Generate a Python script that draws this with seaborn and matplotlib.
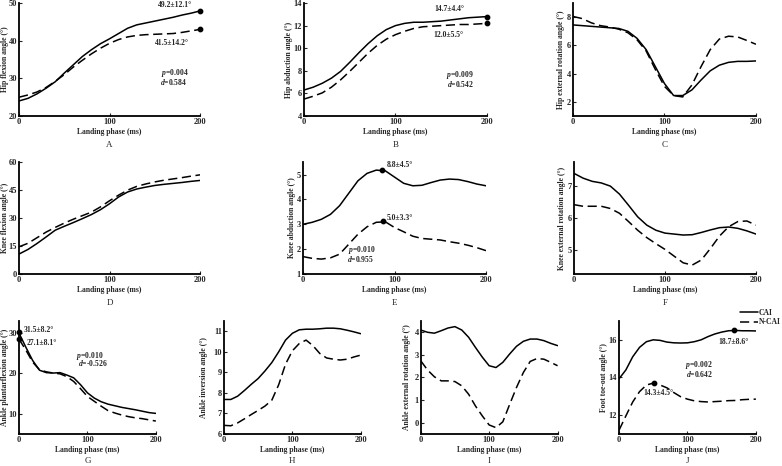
import matplotlib
matplotlib.use("Agg")
import matplotlib.pyplot as plt
import seaborn as sns

# landing phase time points (ms)
time = list(range(0, 201, 10))

hip_flex_cai = [24.0, 24.7, 25.9, 27.4, 29.1, 31.4, 33.6, 35.8, 37.6, 39.2, 40.5,
                41.9, 43.3, 44.2, 44.7, 45.2, 45.7, 46.2, 46.8, 47.3, 47.9]
hip_flex_ncai = [25.0, 25.6, 26.4, 27.6, 29.2, 31.0, 33.0, 34.8, 36.5, 38.0, 39.3,
                 40.3, 41.0, 41.4, 41.6, 41.7, 41.8, 41.9, 42.2, 42.6, 43.0]

hip_abd_cai = [6.3, 6.55, 6.9, 7.35, 7.95, 8.75, 9.6, 10.4, 11.1, 11.65, 12.0,
               12.2, 12.3, 12.3, 12.35, 12.4, 12.5, 12.6, 12.7, 12.75, 12.8]
hip_abd_ncai = [5.5, 5.75, 6.05, 6.55, 7.2, 7.95, 8.75, 9.55, 10.25, 10.8, 11.2,
                11.5, 11.75, 11.9, 11.95, 12.0, 12.05, 12.1, 12.1, 12.15, 12.2]

hip_rot_cai = [7.45, 7.4, 7.35, 7.3, 7.25, 7.2, 7.0, 6.5, 5.7, 4.5, 3.3,
               2.45, 2.45, 2.85, 3.55, 4.2, 4.6, 4.8, 4.87, 4.87, 4.9]
hip_rot_ncai = [8.05, 7.9, 7.6, 7.4, 7.3, 7.15, 6.9, 6.4, 5.6, 4.3, 3.1,
                2.45, 2.35, 3.2, 4.5, 5.7, 6.45, 6.65, 6.6, 6.35, 6.08]

knee_flex_cai = [10.7, 13.2, 16.4, 19.9, 23.5, 25.6, 27.6, 29.7, 31.9, 34.5, 37.7,
                 41.3, 44.0, 45.6, 46.6, 47.5, 48.1, 48.6, 49.1, 49.7, 50.2]
knee_flex_ncai = [14.6, 16.5, 19.5, 22.5, 25.0, 27.3, 29.4, 31.3, 33.2, 36.0, 39.3,
                  42.3, 45.0, 47.0, 48.3, 49.4, 50.3, 51.0, 51.7, 52.5, 53.2]

knee_abd_cai = [3.0, 3.08, 3.2, 3.4, 3.75, 4.25, 4.75, 5.05, 5.18, 5.15, 4.9,
                4.65, 4.55, 4.57, 4.68, 4.78, 4.82, 4.8, 4.72, 4.62, 4.55]
knee_abd_ncai = [1.7, 1.63, 1.6, 1.65, 1.8, 2.2, 2.6, 2.9, 3.08, 3.1, 2.87,
                 2.7, 2.52, 2.43, 2.4, 2.37, 2.3, 2.24, 2.16, 2.06, 1.94]

knee_rot_cai = [7.4, 7.25, 7.15, 7.1, 7.0, 6.75, 6.4, 6.04, 5.78, 5.62, 5.53,
                5.5, 5.47, 5.48, 5.55, 5.63, 5.7, 5.72, 5.68, 5.6, 5.5]
knee_rot_ncai = [6.42, 6.37, 6.37, 6.37, 6.3, 6.15, 5.89, 5.62, 5.39, 5.2, 5.02,
                 4.81, 4.6, 4.53, 4.69, 5.05, 5.44, 5.73, 5.89, 5.91, 5.78]

ankle_pf_cai = [30.0, 26.5, 23.2, 20.8, 20.2, 20.1, 20.2, 19.6, 18.9, 17.2, 15.2,
                13.9, 13.0, 12.4, 12.0, 11.6, 11.3, 11.0, 10.65, 10.3, 10.1]
ankle_pf_ncai = [28.5, 25.8, 22.8, 20.9, 20.4, 20.1, 19.9, 19.2, 18.0, 16.2, 14.3,
                 13.1, 11.9, 10.8, 10.2, 9.7, 9.3, 9.0, 8.8, 8.5, 8.2]

ankle_inv_cai = [7.68, 7.68, 7.84, 8.12, 8.42, 8.7, 9.07, 9.48, 10.0, 10.57, 10.9,
                 11.07, 11.1, 11.1, 11.12, 11.15, 11.15, 11.12, 11.05, 10.97, 10.88]
ankle_inv_ncai = [6.42, 6.4, 6.54, 6.74, 6.95, 7.15, 7.36, 7.65, 8.4, 9.4, 10.05,
                  10.4, 10.57, 10.3, 9.92, 9.7, 9.64, 9.6, 9.64, 9.75, 9.84]

ankle_rot_cai = [4.1, 4.0, 3.96, 4.07, 4.19, 4.25, 4.1, 3.78, 3.33, 2.9, 2.52,
                 2.44, 2.67, 3.04, 3.38, 3.6, 3.7, 3.7, 3.63, 3.51, 3.41]
ankle_rot_ncai = [2.74, 2.33, 2.03, 1.85, 1.85, 1.82, 1.63, 1.26, 0.74, 0.3, -0.1,
                  -0.22, 0.04, 0.81, 1.56, 2.22, 2.71, 2.84, 2.81, 2.67, 2.52]

toe_out_cai = [13.93, 14.4, 15.1, 15.6, 15.9, 16.0, 15.97, 15.88, 15.84, 15.83, 15.84,
               15.9, 16.0, 16.17, 16.31, 16.41, 16.48, 16.5, 16.48, 16.48, 16.47]
toe_out_ncai = [11.2, 11.96, 12.7, 13.25, 13.6, 13.7, 13.6, 13.45, 13.2, 12.98, 12.85,
                12.76, 12.72, 12.7, 12.72, 12.74, 12.77, 12.78, 12.82, 12.84, 12.85]

sns.set_style("ticks")
plt.rcParams['font.family'] = ['Liberation Serif', 'DejaVu Serif']
plt.rcParams['font.weight'] = 'bold'
plt.rcParams['mathtext.fontset'] = 'custom'
plt.rcParams['mathtext.it'] = 'Liberation Serif:italic:bold'
plt.rcParams['mathtext.rm'] = 'Liberation Serif:bold'
plt.rcParams['mathtext.bf'] = 'Liberation Serif:bold'

FS = 5.5
TFS = 6
DASH = (0, (6, 3))

fig = plt.figure(figsize=(7.82, 4.66), dpi=100)
FIG_W = 782


def panel(rect, cai, ncai, ylim, yticks, ylabel, letter, ylab_px, legend=False, letter_y=-0.26):
    ax = fig.add_axes(rect)
    sns.lineplot(x=time, y=cai, ax=ax, color="black", linewidth=1.1,
                 label="CAI" if legend else None, legend=False)
    sns.lineplot(x=time, y=ncai, ax=ax, color="black", linewidth=1.1,
                 linestyle=DASH, label="N-CAI" if legend else None, legend=False)
    ax.set_xlim(0, 200)
    ax.set_ylim(*ylim)
    ax.set_xticks([0, 100, 200])
    ax.set_yticks(yticks)
    ax.tick_params(direction="in", length=2.5, width=0.8, labelsize=TFS, pad=1.5)
    for lab in ax.get_xticklabels() + ax.get_yticklabels():
        lab.set_fontweight("bold")
    sns.despine(ax=ax)
    for s in ["left", "bottom"]:
        ax.spines[s].set_linewidth(1.3)
        ax.spines[s].set_color("black")
    ax.set_xlabel("Landing phase (ms)", fontsize=FS, fontweight="bold", labelpad=1.5)
    ax.set_ylabel(ylabel, fontsize=FS, fontweight="bold")
    # place y label centre ylab_px pixels left of the spine
    ax.yaxis.set_label_coords(-(ylab_px - 3.5) / (rect[2] * FIG_W), 0.5)
    ax.text(0.5, letter_y, letter, transform=ax.transAxes, ha="center", va="center",
            fontsize=6.5, fontweight="normal")
    return ax


def note(ax, x, y, s):
    ax.text(x, y, s, ha="center", va="center", fontsize=FS, fontweight="bold")


def dots(ax, xs, ys):
    ax.scatter(xs, ys, s=10, color="black", zorder=5, clip_on=False)


W1, W3 = 0.2315, 0.175
H = 0.2425
r1, r2, r3 = 0.751, 0.412, 0.0687

axA = panel([0.0243, r1, W1, H], hip_flex_cai, hip_flex_ncai, (20, 50), [20, 30, 40, 50],
            "Hip flexion angle (°)", "A", 14)
dots(axA, [200, 200], [47.9, 43.0])
note(axA, 172, 49.6, "49.2±12.1°")
note(axA, 169, 39.5, "41.5±14.2°")
note(axA, 172, 31.4, "$p$=0.004")
note(axA, 171, 29.1, "$d$=0.584")

axB = panel([0.3887, r1, 0.234, H], hip_abd_cai, hip_abd_ncai, (4, 14), [4, 6, 8, 10, 12, 14],
            "Hip abduction angle (°)", "B", 14)
dots(axB, [200, 200], [12.8, 12.2])
note(axB, 158.7, 13.46, "14.7±4.4°")
note(axB, 158, 11.17, "12.0±5.5°")
note(axB, 170, 7.66, "$p$=0.009")
note(axB, 171.5, 6.83, "$d$=0.542")

axC = panel([0.7327, r1, 0.234, H], hip_rot_cai, hip_rot_ncai, (1, 9), [2, 4, 6, 8],
            "Hip external rotation angle (°)", "C", 11)

axD = panel([0.0243, r2, W1, 0.240], knee_flex_cai, knee_flex_ncai, (0, 60), [0, 15, 30, 45, 60],
            "Knee flexion angle (°)", "D", 14)

axE = panel([0.3875, r2, 0.234, 0.240], knee_abd_cai, knee_abd_ncai, (1, 5.5), [1, 2, 3, 4, 5],
            "Knee abduction angle (°)", "E", 10.5)
dots(axE, [86, 87], [5.2, 3.12])
note(axE, 105.8, 5.37, "8.8±4.5°")
note(axE, 105.5, 3.24, "5.0±3.3°")
note(axE, 64, 1.97, "$p$=0.010")
note(axE, 63, 1.59, "$d$=0.955")

axF = panel([0.734, r2, 0.2327, 0.240], knee_rot_cai, knee_rot_ncai, (4.25, 7.75), [5, 6, 7],
            "Knee external rotation angle (°)", "F", 11)

axG = panel([0.0243, r3, W3, H], ankle_pf_cai, ankle_pf_ncai, (5, 33), [10, 20, 30],
            "Ankle plantarflexion angle (°)", "G", 13.5, letter_y=-0.235)
dots(axG, [0, 0], [30.2, 28.5])
note(axG, 28.4, 30.8, "31.5±8.2°")
note(axG, 32.8, 27.56, "27.1±8.1°")
note(axG, 103.4, 24.3, "$p$=0.010")
note(axG, 108, 22.7, "$d$=-0.526")

axH = panel([0.2864, r3, W3, H], ankle_inv_cai, ankle_inv_ncai, (6, 11.5), [6, 7, 8, 9, 10, 11],
            "Ankle inversion angle (°)", "H", 19, letter_y=-0.235)

axI = panel([0.538, r3, W3, H], ankle_rot_cai, ankle_rot_ncai, (-0.5, 4.5), [0, 1, 2, 3, 4],
            "Ankle external rotation angle (°)", "I", 13, letter_y=-0.235)

axJ = panel([0.7916, r3, W3, H], toe_out_cai, toe_out_ncai, (11, 17), [12, 14, 16],
            "Foot toe-out angle (°)", "J", 15, legend=True, letter_y=-0.235)
dots(axJ, [168, 51], [16.5, 13.7])
note(axJ, 168, 15.91, "18.7±8.6°")
note(axJ, 57.4, 13.15, "14.3±4.5°")
note(axJ, 117, 14.67, "$p$=0.002")
note(axJ, 117, 14.2, "$d$=0.642")
axJ.legend(loc="upper left", bbox_to_anchor=(0.942, 0.345), bbox_transform=fig.transFigure,
           frameon=False, handlelength=2.3, handletextpad=0.1,
           labelspacing=0.15, borderpad=0, prop={"weight": "bold", "size": FS})

fig.savefig("out.png", dpi=100)
